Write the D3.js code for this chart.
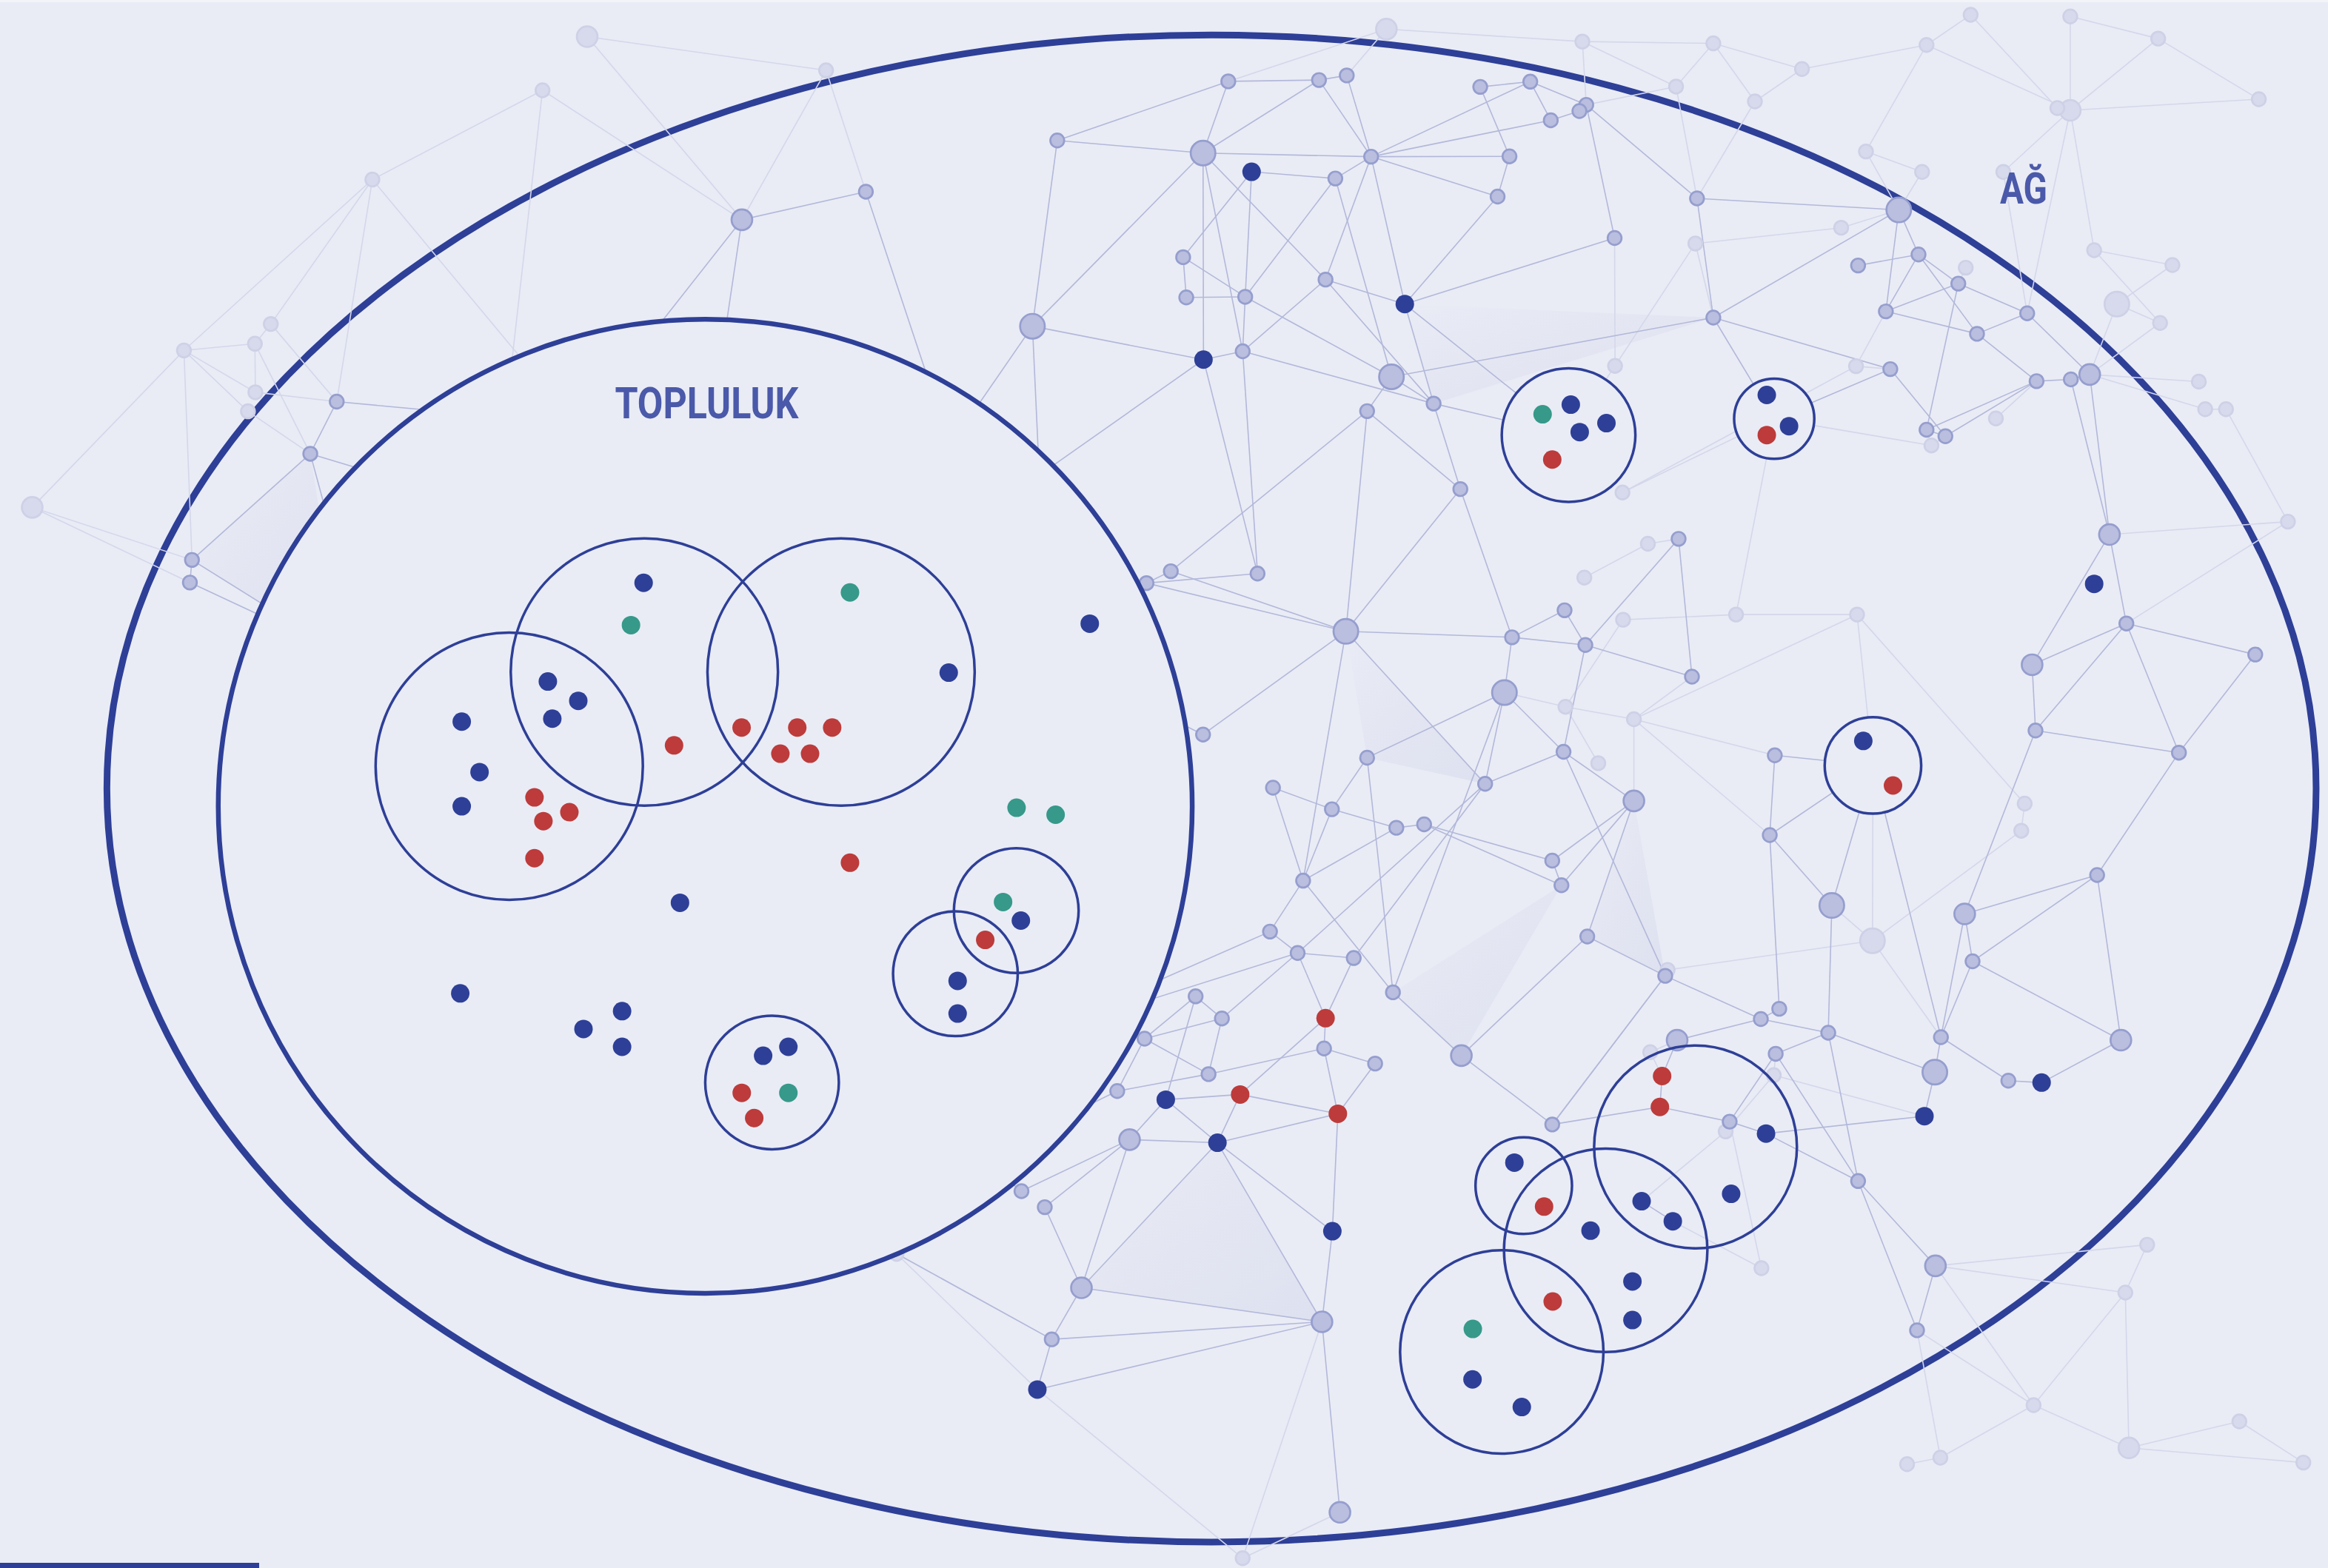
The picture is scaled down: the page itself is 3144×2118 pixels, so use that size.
<!DOCTYPE html>
<html>
<head>
<meta charset="utf-8">
<script src="https://cdn.jsdelivr.net/npm/d3@7"></script>
<style>
  html, body { margin: 0; padding: 0; background: #e9ecf5; }
  svg { display: block; }
</style>
</head>
<body>
<div id="chart"></div>
<script>
'use strict';

// all positions are in diagram units (0..1568 x 0..1056), mapped by the scales below

// grey network nodes: id, x, y, weight (1 small .. 3 large)
let greyNodes = [
    ["A9", 226.8, 270.5, 1], ["A10", 209, 305.6, 1], ["A12", 499.7, 148, 2],
    ["D1", 129.3, 377.1, 1], ["D2", 127.9, 392.3, 1], ["B2", 583.2, 129.1, 1],
    ["B3", 827.3, 54.8, 1], ["B4", 888.4, 53.9, 1], ["B5", 907.1, 50.8, 1],
    ["B7", 997, 58.5, 1], ["B8", 1030.7, 55, 1], ["B9", 1044.5, 81, 1],
    ["B10", 712.1, 94.6, 1], ["B11", 810.3, 103.1, 3], ["B13", 923.5, 105.5, 1],
    ["B14", 1016.7, 105.3, 1], ["B15", 899.4, 120.2, 1], ["B16", 1008.7, 132.4, 1],
    ["B17", 796.9, 173.2, 1], ["B18", 799, 200.3, 1], ["B19", 838.7, 199.9, 1],
    ["B20", 892.8, 188.3, 1], ["B22", 695.4, 219.7, 3], ["B24", 837, 236.6, 1],
    ["B25", 937.2, 253.8, 3], ["B26", 965.6, 271.8, 1], ["B27", 920.8, 276.9, 1],
    ["B28", 983.6, 329.4, 1], ["C6", 1068.4, 70.6, 1], ["C7", 1063.8, 74.8, 1],
    ["C18", 1087.5, 160.3, 1], ["C19", 1143, 133.6, 1], ["C20", 1278.9, 141.4, 3],
    ["C23", 1292.2, 171.4, 1], ["C24", 1251.5, 178.8, 1], ["C26", 1319, 191, 1],
    ["C27", 1154, 213.9, 1], ["C28", 1270.2, 209.7, 1], ["C29", 1331.6, 224.8, 1],
    ["C30", 1365.4, 211, 1], ["C37", 1273.2, 248.6, 1], ["C38", 1371.7, 256.7, 1],
    ["C39", 1394.8, 255.5, 1], ["C40", 1407.5, 252.2, 2], ["C42", 1297.6, 289.4, 1],
    ["C43", 1310.3, 293.8, 1], ["E1", 772.2, 392.7, 1], ["E2", 788.6, 384.7, 1],
    ["E3", 847, 386.3, 1], ["E4", 906.5, 425.2, 3], ["E5", 1018.4, 429.2, 1],
    ["E6", 1013.3, 466.4, 3], ["E7", 810.3, 494.7, 1], ["E8", 920.8, 510.3, 1],
    ["E9", 857.4, 530.5, 1], ["E10", 897.1, 545, 1], ["E11", 940.5, 557.5, 1],
    ["E12", 959.2, 555.2, 1], ["E13", 1000.3, 527.9, 1], ["E14", 1045.5, 579.6, 1],
    ["E15", 877.7, 593.1, 1], ["E16", 855.4, 627.4, 1], ["E17", 874, 641.8, 1],
    ["E18", 911.8, 645.2, 1], ["E19", 938.2, 668.3, 1], ["E20", 805.3, 671, 1],
    ["E21", 823, 685.9, 1], ["E23", 770.9, 699.5, 1], ["F2", 1130.6, 362.9, 1],
    ["F4", 1053.8, 411, 1], ["F8", 1067.8, 434.4, 1], ["F9", 1139.6, 455.7, 1],
    ["F12", 1053.1, 506.3, 1], ["F14", 1195.4, 508.7, 1], ["F15", 1100.5, 539.4, 2],
    ["F16", 1192, 562.4, 1], ["F18", 1051.7, 596.2, 1], ["F19", 1233.8, 609.8, 3],
    ["F23", 1420.8, 360, 2], ["F25", 1432.2, 419.9, 1], ["F26", 1368.7, 447.7, 2],
    ["F27", 1519, 440.8, 1], ["F28", 1371, 492, 1], ["F29", 1467.6, 506.9, 1],
    ["F30", 1412.5, 589.3, 1], ["F31", 1323.3, 615.5, 2], ["F32", 1328.6, 647.4, 1],
    ["F33", 1069.1, 630.7, 1], ["F35", 1121.6, 657.2, 1], ["F36", 1198.4, 679.4, 1],
    ["F37", 1186, 686.3, 1], ["F38", 1231.4, 695.5, 1], ["F39", 1129.6, 700.5, 2],
    ["F40", 1307.3, 698.5, 1], ["F41", 1428.5, 700.5, 2], ["G2", 814, 723.4, 1],
    ["G3", 752.5, 734.8, 1], ["G6", 891.8, 706.1, 1], ["G7", 926.2, 716.3, 1],
    ["G9", 760.8, 767.5, 2], ["G11", 688, 802.2, 1], ["G12", 703.7, 813, 1],
    ["G14", 728.4, 867.3, 2], ["G15", 890.4, 890.2, 2], ["G16", 708.4, 902, 1],
    ["G18", 902.5, 1018.5, 2], ["G20", 984.3, 710.9, 2], ["G21", 1045.5, 757.3, 1],
    ["H3", 1196, 709.7, 1], ["H6", 1303.2, 722.1, 3], ["H8", 1352.7, 727.8, 1],
    ["H12", 1165, 755.4, 1], ["H15", 1251.5, 795.4, 1], ["H17", 1303.6, 852.5, 2],
    ["H18", 1291.2, 895.9, 1]
];

// faded background nodes: id, x, y, weight
let faintNodes = [
    ["A1", 395.5, 24.7, 2], ["A2", 365.4, 60.8, 1], ["A3", 250.8, 120.9, 1],
    ["A4", 182.4, 218.2, 1], ["A5", 171.7, 231.5, 1], ["A6", 123.9, 236, 1],
    ["A7", 172, 264.2, 1], ["A8", 167, 277, 1], ["A11", 21.7, 341.7, 2],
    ["B1", 556.4, 47.4, 1], ["B6", 933.8, 19.6, 2], ["C1", 1065.8, 28, 1],
    ["C2", 1154, 29.2, 1], ["C3", 1213.7, 46.5, 1], ["C4", 1128.9, 58.3, 1],
    ["C5", 1182, 68.3, 1], ["C9", 1327.3, 10, 1], ["C10", 1394.4, 11.1, 1],
    ["C11", 1297.6, 30.3, 1], ["C12", 1453.6, 26, 1], ["C13", 1394.4, 74.3, 2],
    ["C13b", 1385.7, 72.8, 1], ["C14", 1521.4, 66.8, 1], ["C15", 1256.8, 102, 1],
    ["C16", 1294.6, 115.8, 1], ["C17", 1349.3, 115.8, 1], ["C21", 1240.1, 153.4, 1],
    ["C22", 1141.9, 164, 1], ["C25", 1324, 180.3, 1], ["C31", 1425.8, 204.8, 3],
    ["C32", 1410.5, 168.5, 1], ["C33", 1463.2, 178.5, 1], ["C34", 1454.9, 217.5, 1],
    ["C35", 1087.8, 246.4, 1], ["C36", 1250.1, 246.6, 1], ["C41", 1344.3, 281.8, 1],
    ["C44", 1300.9, 300, 1], ["C45", 1481, 257, 1], ["C46", 1485.3, 275.6, 1],
    ["C47", 1499.3, 275.6, 1], ["C48", 1092.8, 331.7, 1], ["F42", 1541, 351.3, 1],
    ["F1", 1109.9, 366.2, 1], ["F3", 1067.1, 389, 1], ["F5", 1093.2, 417.4, 1],
    ["F6", 1169.3, 413.9, 1], ["F7", 1250.8, 413.9, 1], ["F10", 1054.4, 476, 1],
    ["F11", 1100.5, 484.4, 1], ["F13", 1076.5, 514, 1], ["F20", 1261.2, 633.6, 3],
    ["F21", 1363.7, 541.2, 1], ["F22", 1361.4, 559.5, 1], ["F34", 1123.2, 653.2, 1],
    ["G19", 837, 1049.4, 1], ["G22", 603.9, 844.5, 1], ["H2", 1111.5, 708.6, 1],
    ["H4", 1194.7, 724.1, 1], ["H13", 1162.3, 762, 1], ["H16", 1186.4, 854.1, 1],
    ["H19", 1446.2, 838.3, 1], ["H20", 1431.5, 870.5, 1], ["H21", 1369.7, 946.3, 1],
    ["H22", 1433.9, 975.1, 2], ["H23", 1508.3, 957.3, 1], ["H24", 1551.4, 985, 1],
    ["H25", 1306.9, 981.7, 1], ["H26", 1284.5, 986.1, 1]
];

// network members drawn as solid dots: id, x, y, group
let memberNodes = [
    ["B12", 843, 115.7, "a"], ["B21", 946.2, 204.8, "a"], ["B23", 810.6, 242.2, "a"],
    ["F24", 1410.5, 393.2, "a"], ["E22", 892.8, 685.7, "b"], ["G4", 785.2, 740.6, "a"],
    ["G5", 835.3, 737.1, "b"], ["G8", 901.1, 750.1, "b"], ["G10", 820, 769.6, "a"],
    ["G13", 897.4, 829.2, "a"], ["G17", 698.7, 935.8, "a"], ["H9", 1375.1, 729.1, "a"],
    ["H14", 1296.2, 751.7, "a"]
];

// members of the communities: id, x, y, group
let communityDots = [
    ["P1", 433.5, 392.5, "a"], ["P2", 425, 421, "c"], ["P3", 369, 459, "a"],
    ["P4", 389.5, 472, "a"], ["P5", 372, 484, "a"], ["P6", 311, 486, "a"],
    ["P7", 323, 520, "a"], ["P8", 311, 543, "a"], ["P9", 360, 537, "b"],
    ["P10", 383.5, 547, "b"], ["P11", 366, 553, "b"], ["P12", 360, 578, "b"],
    ["P13", 454, 502, "b"], ["P14", 499.5, 490, "b"], ["P15", 537, 490, "b"],
    ["P16", 560.5, 490, "b"], ["P17", 525.6, 507.6, "b"], ["P18", 545.6, 507.6, "b"],
    ["P19", 572.5, 399, "c"], ["P20", 639, 453, "a"], ["P21", 734, 420, "a"],
    ["P22", 684.7, 544, "c"], ["P23", 711, 548.7, "c"], ["P24", 572.5, 581, "b"],
    ["P25", 675.6, 607.5, "c"], ["P26", 687.6, 620, "a"], ["P27", 663.6, 633, "b"],
    ["P28", 645, 660.6, "a"], ["P29", 645, 682.6, "a"], ["P30", 458, 608, "a"],
    ["P31", 310, 669, "a"], ["P32", 419, 681, "a"], ["P33", 393, 693, "a"],
    ["P34", 419, 705, "a"], ["P35", 514, 711, "a"], ["P36", 531, 705, "a"],
    ["P37", 499.6, 736, "b"], ["P38", 508, 753, "b"], ["P39", 531, 736, "c"],
    ["P40", 1039, 279, "c"], ["P41", 1058, 272.5, "a"], ["P42", 1082, 285, "a"],
    ["P43", 1064, 291, "a"], ["P44", 1045.5, 309.5, "b"], ["P45", 1190, 266, "a"],
    ["P46", 1205, 287, "a"], ["P47", 1190, 293, "b"], ["P48", 1255, 499, "a"],
    ["P49", 1275, 529, "b"], ["P50", 1020, 783, "a"], ["P51", 1040, 812.6, "b"],
    ["P52", 1119.5, 724.7, "b"], ["P53", 1118, 745.5, "b"], ["P54", 1189.5, 763.4, "a"],
    ["P55", 1166, 804, "a"], ["P56", 1105.7, 809, "a"], ["P57", 1126.7, 822.5, "a"],
    ["P58", 1071.3, 828.8, "a"], ["P59", 1099.5, 863, "a"], ["P60", 1099.5, 889, "a"],
    ["P61", 1045.8, 876.5, "b"], ["P62", 992, 895, "c"], ["P63", 991.8, 929, "a"],
    ["P64", 1025, 947.6, "a"]
];

// community circles: id, cx, cy, radius
let communities = [
    ["K1", 343, 516, 90], ["K2", 434, 452.6, 90], ["K3", 566.5, 452.6, 90],
    ["K4", 684.5, 613.3, 42], ["K5", 643.5, 655.8, 42], ["K6", 520, 729, 45],
    ["K7", 1056.5, 293, 45], ["K8", 1195, 282, 27], ["K9", 1261.5, 515.5, 32.5],
    ["K10", 1026.3, 798.5, 32.5], ["K11", 1142, 772.4, 68.3], ["K12", 1081.5, 842, 68.5],
    ["K13", 1011.5, 910.5, 68.5]
];
// communities that hide the links ending on them
let closedCommunities = ["K7", "K8", "K9"];

// links that run under the TOPLULUK circle end here
let hiddenNodes = [
    ["X1", 335, 330], ["X2", 400, 300], ["X3", 380, 300], ["X4", 480, 280],
    ["X5", 330, 280], ["X6", 290, 330], ["X7", 240, 420], ["X8", 230, 440],
    ["X9", 640, 300], ["X10", 700, 320], ["X11", 720, 450], ["X12", 690, 700],
    ["X13", 660, 780], ["X14", 560, 820]
];

// the two regions: name, cx, cy, rx, ry
let regionNames = ["AĞ", "TOPLULUK"];
let regionShapes = [[816, 531, 744, 507.5], [475, 543, 328, 328]];
let regionLabelAt = [[1363, 137], [476, 281.6]];

let links = [
    "A1-B1", "A1-A12", "A2-A12", "A2-A3", "A2-X1", "A3-A6", "A3-A4", "A3-A9", "A3-X2",
    "A12-B2", "A12-B1", "A12-X3", "A12-X4", "A4-A5", "A4-A9", "A5-A6", "A5-A10", "A5-A7",
    "A6-A7", "A6-A8", "A6-A11", "A6-D1", "A7-A9", "A8-A10", "A9-A10", "A9-X5", "A10-X6",
    "A10-D1", "A10-X7", "A11-D1", "A11-D2", "D1-D2", "D1-X8", "D2-X8", "B1-B2", "B2-X9",
    "B22-X10", "B22-X9", "B23-X10", "E1-X11", "E7-X11", "E16-X12", "E17-X12", "G3-X13",
    "G11-X13", "G16-X14",
    "B3-B4", "B3-B10", "B3-B11", "B3-B6", "B4-B5", "B4-B11", "B4-B13", "B5-B6", "B5-B13",
    "B10-B11", "B10-B22", "B11-B13", "B11-B22", "B11-B23", "B11-B24", "B11-B20",
    "B12-B15", "B12-B19", "B12-B17", "B13-B14", "B13-B15", "B13-B9", "B13-B8", "B13-B16",
    "B13-B20", "B13-B21", "B15-B25", "B15-B19", "B14-B7", "B14-B16", "B16-B21", "B7-B8",
    "B8-B9", "B17-B18", "B17-B19", "B18-B19", "B19-B25", "B19-B24", "B24-B23", "B24-B20",
    "B24-B26", "B24-E3", "B20-B21", "B20-B26", "B21-B26", "B21-C18", "B21-K7", "B22-B23",
    "B23-E3", "B25-C27", "B25-B26", "B25-B27", "B27-B28", "B27-E2", "B27-E4", "B26-B28",
    "B26-K7", "B28-E5", "B28-E4", "B9-C7", "B8-C6", "B6-C1",
    "C6-C7", "C6-C4", "C6-C1", "C6-C19", "C6-C18", "C19-C20", "C19-C27", "C19-C5",
    "C19-C4", "C22-C21", "C22-C27", "C22-C35", "C18-C35", "C27-C20", "C27-C37", "C20-C23",
    "C20-C15", "C20-C28", "C20-C21", "C20-C16", "C23-C24", "C23-C26", "C23-C28", "C23-C29",
    "C26-C25", "C26-C30", "C26-C28", "C26-C42", "C28-C29", "C28-C36", "C29-C30", "C29-C38",
    "C30-C17", "C30-C13", "C30-C40", "C13-C10", "C13-C12", "C13-C11", "C13-C14", "C13-C17",
    "C13-C32", "C13b-C9", "C32-C33", "C32-C34", "C34-C40", "C40-C45", "C40-C46", "C38-C39",
    "C39-C40", "C38-C42", "C38-C43", "C42-C43", "C42-C44", "C43-C44", "C36-C37", "C36-C48",
    "C37-C43", "C2-C4", "C2-C5", "C2-C1", "C2-C3", "C3-C5", "C3-C11", "C11-C9", "C10-C12",
    "C12-C14", "C1-C4", "C15-C16", "C15-C11", "C31-C40", "C31-C34", "C33-C31", "C46-C47",
    "C47-F42", "C40-F23", "C39-F23", "C35-K7", "C48-K8", "C44-K8", "C41-C38", "C27-K8",
    "C37-K8",
    "E1-E2", "E1-E4", "E2-E4", "E3-E1", "E4-E5", "E4-E7", "E4-E13", "E4-E15", "E5-E6",
    "E5-F4", "E5-F8", "E6-E8", "E6-E13", "E6-E19", "E6-F10", "E6-F12", "E8-E10", "E8-E19",
    "E9-E10", "E9-E15", "E10-E11", "E10-E15", "E11-E12", "E11-E15", "E12-E14", "E12-F18",
    "E13-E17", "E13-E18", "E13-F12", "E15-E19", "E15-E16", "E16-E17", "E17-E18", "E17-E21",
    "E17-E22", "E18-E22", "E20-E21", "E21-E23", "E20-E23", "E19-G20", "E14-F18",
    "F1-F3", "F2-F9", "F2-F8", "F4-F8", "F5-F6", "F6-F7", "F5-F10", "F8-F9", "F8-F12",
    "F7-F11", "F7-K9", "F7-F21", "F6-K8", "F9-F11", "F10-F11", "F10-F13", "F11-F14",
    "F11-F15", "F11-F16", "F12-F15", "F14-K9", "F14-F16", "F15-F33", "F15-E14", "F15-F18",
    "F16-F19", "F16-F36", "F16-K9", "F19-F20", "F19-K9", "F19-F38", "F20-F22", "F20-F34",
    "F20-F40", "F20-K9", "F21-F22", "K9-F40", "F23-F25", "F23-F26", "F23-F42", "F25-F26",
    "F25-F27", "F25-F28", "F25-F29", "F25-F42", "F26-F28", "F27-F29", "F28-F29", "F28-F31",
    "F29-F30", "F30-F31", "F30-F32", "F30-F41", "F31-F32", "F31-F40", "F32-F40", "F32-F41",
    "F33-F35", "F33-G20", "F35-F37", "F35-G21", "F36-F37", "F37-F38", "F37-F39", "F38-H6",
    "F38-H3", "F38-H15", "F12-F35", "F2-F1",
    "E23-G2", "E23-G3", "G2-G6", "G2-E21", "G3-G2", "G4-G5", "G4-G9", "G4-G10", "G4-E20",
    "G5-G8", "G5-G10", "G5-E22", "G6-G7", "G6-G8", "G6-E22", "G7-G8", "G8-G10", "G8-G13",
    "G9-G10", "G9-G11", "G9-G12", "G9-G14", "G10-G13", "G10-G14", "G10-G15", "G12-G14",
    "G13-G15", "G14-G15", "G14-G16", "G15-G16", "G15-G17", "G15-G18", "G15-G19", "G16-G17",
    "G16-G22", "G17-G22", "G17-G19", "G18-G19", "G20-G21", "G21-P53", "G21-F35",
    "F39-H2", "F39-P52", "H2-P52", "P52-P53", "P53-H12", "H3-H4", "H3-H12", "H4-H13",
    "H4-H14", "H3-H15", "H12-H13", "H12-P54", "H12-H16", "H6-F40", "H6-H14", "H8-H9",
    "H8-F40", "H9-F41", "H14-P54", "P54-H15", "H15-H17", "H15-H18", "H13-P56", "P56-P57",
    "P57-H16", "H17-H18", "H17-H19", "H17-H20", "H17-H21", "H18-H21", "H18-H25", "H20-H21",
    "H20-H22", "H19-H20", "H21-H22", "H21-H25", "H22-H23", "H22-H24", "H23-H24", "H25-H26"
];

// faint shaded faces of the network
let faces = [
    ["E4", "E8", "E13"], ["G10", "G14", "G15"], ["B21", "C27", "B26"],
    ["F15", "F33", "F35"], ["F18", "E19", "G20"], ["D1", "A10", "X8"]
];

const width = 3144;
const height = 2118;
const bg = "#e9ecf5";
const ink = "#2e3f97";
const groupColor = {"a": "#2e3f97", "b": "#bd3b3b", "c": "#36998a"};
const nodeStroke = 2.7;

let x = d3.scaleLinear().domain([0, 1568]).range([0, width]);
let y = d3.scaleLinear().domain([0, 1056]).range([0, height]);
// outer radius of a node for each weight
let nodeRadius = d3.scaleOrdinal().domain([1, 2, 3]).range([10.7, 15.3, 18]);

// lookup of every point a link can end on
let points = {};
greyNodes.forEach(d => { points[d[0]] = {x: d[1], y: d[2], faint: false}; });
faintNodes.forEach(d => { points[d[0]] = {x: d[1], y: d[2], faint: true}; });
memberNodes.forEach(d => { points[d[0]] = {x: d[1], y: d[2], faint: false}; });
communityDots.forEach(d => { points[d[0]] = {x: d[1], y: d[2], faint: false}; });
communities.forEach(d => { points[d[0]] = {x: d[1], y: d[2], faint: false}; });
hiddenNodes.forEach(d => { points[d[0]] = {x: d[1], y: d[2], faint: false}; });

let linkData = [];
links.forEach(l => {
    let [a, b] = l.split("-");
    if (!points[a] || !points[b]) {
        console.warn("missing end for link " + l);
        return;
    }
    linkData.push({a: points[a], b: points[b], faint: points[a].faint || points[b].faint});
});
// draw the faint links first
linkData.sort((p, q) => (q.faint ? 1 : 0) - (p.faint ? 1 : 0));

let svg = d3.select("#chart")
    .append("svg")
    .attr("width", width)
    .attr("height", height);

svg.append("rect")
    .attr("width", width)
    .attr("height", height)
    .attr("fill", bg);
svg.append("rect")
    .attr("width", width)
    .attr("height", 3)
    .attr("fill", "#f3f4f8");

let grad = svg.append("defs").append("linearGradient")
    .attr("id", "face")
    .attr("x1", 0).attr("y1", 0).attr("x2", 1).attr("y2", 1);
grad.append("stop").attr("offset", 0).attr("stop-color", "#d4d7ea").attr("stop-opacity", 0);
grad.append("stop").attr("offset", 1).attr("stop-color", "#d4d7ea").attr("stop-opacity", 0.55);

svg.append("g").selectAll("polygon")
    .data(faces)
    .enter()
    .append("polygon")
    .attr("points", d => d.map(id => x(points[id].x) + "," + y(points[id].y)).join(" "))
    .attr("fill", "url(#face)");

// outer region line sits under the network
let outer = regionShapes[0];
svg.append("ellipse")
    .attr("cx", x(outer[0]))
    .attr("cy", y(outer[1]))
    .attr("rx", x(outer[2]) - x(0))
    .attr("ry", y(outer[3]) - y(0))
    .attr("fill", "none")
    .attr("stroke", ink)
    .attr("stroke-width", 9);

svg.append("g").selectAll("line")
    .data(linkData)
    .enter()
    .append("line")
    .attr("x1", d => x(d.a.x))
    .attr("y1", d => y(d.a.y))
    .attr("x2", d => x(d.b.x))
    .attr("y2", d => y(d.b.y))
    .attr("stroke", d => d.faint ? "#d4d7ea" : "#b3b8da")
    .attr("stroke-width", 1.6);

svg.append("g").selectAll("circle")
    .data(faintNodes)
    .enter()
    .append("circle")
    .attr("cx", d => x(d[1]))
    .attr("cy", d => y(d[2]))
    .attr("r", d => nodeRadius(d[3]) - nodeStroke / 2)
    .attr("fill", "#d7daec")
    .attr("stroke", "#ced1e6")
    .attr("stroke-width", nodeStroke);

svg.append("g").selectAll("circle")
    .data(greyNodes)
    .enter()
    .append("circle")
    .attr("cx", d => x(d[1]))
    .attr("cy", d => y(d[2]))
    .attr("r", d => nodeRadius(d[3]) - nodeStroke / 2)
    .attr("fill", "#babedf")
    .attr("stroke", "#959ece")
    .attr("stroke-width", nodeStroke);

svg.append("g").selectAll("circle")
    .data(memberNodes)
    .enter()
    .append("circle")
    .attr("cx", d => x(d[1]))
    .attr("cy", d => y(d[2]))
    .attr("r", 12.5)
    .attr("fill", d => groupColor[d[3]]);

// closed communities cover the links ending on them
svg.append("g").selectAll("ellipse")
    .data(communities.filter(d => closedCommunities.includes(d[0])))
    .enter()
    .append("ellipse")
    .attr("cx", d => x(d[1]))
    .attr("cy", d => y(d[2]))
    .attr("rx", d => x(d[3]) - x(0))
    .attr("ry", d => y(d[3]) - y(0))
    .attr("fill", bg);

// the community region hides the network behind it
let inner = regionShapes[1];
svg.append("ellipse")
    .attr("cx", x(inner[0]))
    .attr("cy", y(inner[1]))
    .attr("rx", x(inner[2]) - x(0))
    .attr("ry", y(inner[3]) - y(0))
    .attr("fill", bg)
    .attr("stroke", ink)
    .attr("stroke-width", 6.5);

svg.append("g").selectAll("ellipse")
    .data(communities)
    .enter()
    .append("ellipse")
    .attr("cx", d => x(d[1]))
    .attr("cy", d => y(d[2]))
    .attr("rx", d => x(d[3]) - x(0))
    .attr("ry", d => y(d[3]) - y(0))
    .attr("fill", "none")
    .attr("stroke", ink)
    .attr("stroke-width", 3.5);

svg.append("g").selectAll("circle")
    .data(communityDots)
    .enter()
    .append("circle")
    .attr("cx", d => x(d[1]))
    .attr("cy", d => y(d[2]))
    .attr("r", 12.5)
    .attr("fill", d => groupColor[d[3]]);

// region labels, squeezed like a condensed face
let labelWidth = [64, 248];
svg.append("g").selectAll("text")
    .data(regionNames)
    .enter()
    .append("text")
    .text(d => d)
    .attr("x", (d, i) => x(regionLabelAt[i][0]))
    .attr("y", (d, i) => y(regionLabelAt[i][1]))
    .attr("text-anchor", "middle")
    .attr("textLength", (d, i) => labelWidth[i])
    .attr("lengthAdjust", "spacingAndGlyphs")
    .attr("font-family", "Roboto, 'DejaVu Sans', sans-serif")
    .attr("font-weight", 700)
    .attr("font-size", 59)
    .attr("fill", "#4a59a9");

svg.append("rect")
    .attr("x", 0)
    .attr("y", 2111)
    .attr("width", 350)
    .attr("height", 7)
    .attr("fill", ink);
</script>
</body>
</html>
